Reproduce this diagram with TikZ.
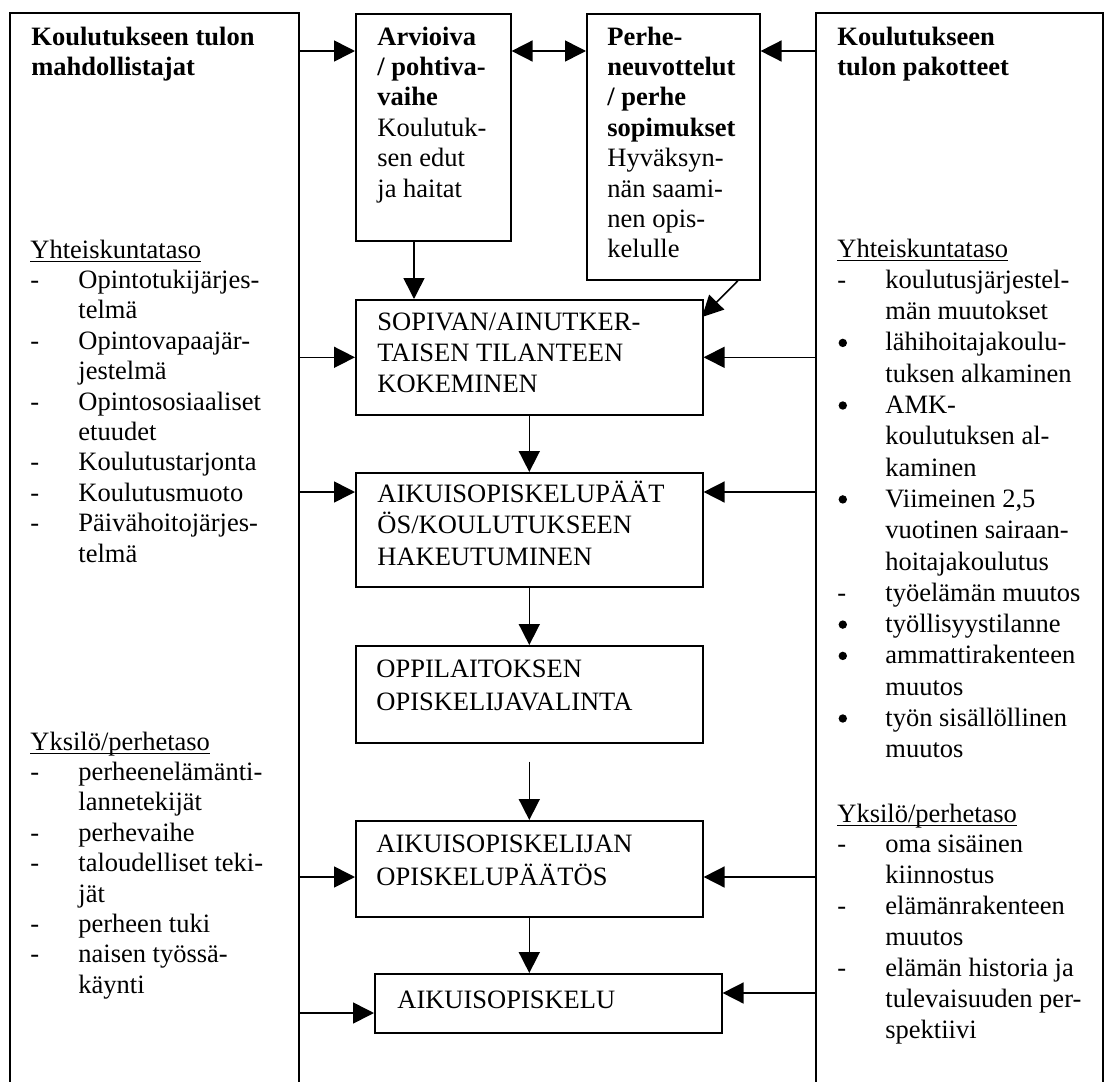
\documentclass[tikz,border=0pt]{standalone}
\usepackage{fontspec}
\setmainfont{Liberation Serif}
\usetikzlibrary{arrows.meta}
\newcommand\undl[1]{\setbox0=\hbox{#1}\rlap{\rule[-2.2pt]{\wd0}{0.6pt}}\box0}
\newcommand\Ln[2]{\hbox{\hbox to 24pt{#1\hfil}#2}}
\newcommand\Hl[1]{\hbox{#1}}
\newcommand\bul{\hspace{0.6pt}\tikz[baseline=-4pt]\fill (0pt,0pt) circle[radius=2.1pt];}
\newcommand\Blk[2]{\vtop{\baselineskip=#1\lineskiplimit=-\maxdimen\lineskip=0pt\relax #2}}
\begin{document}
\begin{tikzpicture}[x=0.5pt,y=-0.5pt,
  every node/.style={font=\fontsize{13.25pt}{15.25pt}\selectfont, inner sep=0pt},
  bx/.style={draw, line width=0.8pt, anchor=north west},
  txt/.style={anchor=base west, align=left},
  arr/.style={-{Triangle[length=10.5pt,width=10.5pt]}, line width=0.8pt},
  darr/.style={{Triangle[length=10.5pt,width=10.5pt]}-{Triangle[length=10.5pt,width=10.5pt]}, line width=0.8pt}]
\useasboundingbox (0,0) rectangle (1105,1082);

% side frames (open at the bottom)
\node[anchor=north west, minimum width=144pt, minimum height=535.5pt] (L) at (10,13) {};
\node[anchor=north west, minimum width=143pt, minimum height=535.5pt] (R) at (816,13) {};
\draw[line width=0.8pt] (L.south west) -- (L.north west) -- (L.north east) -- (L.south east);
\draw[line width=0.8pt] (R.south west) -- (R.north west) -- (R.north east) -- (R.south east);

% central boxes
\node[bx, minimum width=77.5pt, minimum height=113.5pt] (A) at (355,13) {};
\node[bx, minimum width=86.5pt, minimum height=133pt] (P) at (586,13) {};
\node[bx, minimum width=173.5pt, minimum height=57.5pt] (S) at (355,299) {};
\node[bx, minimum width=173.5pt, minimum height=57pt] (D1) at (355,472) {};
\node[bx, minimum width=173.5pt, minimum height=48.5pt] (O) at (355,645) {};
\node[bx, minimum width=173.5pt, minimum height=48pt] (D2) at (355,820) {};
\node[bx, minimum width=173.5pt, minimum height=29.5pt] (E) at (374,973) {};

% texts
\node[txt] (tL) at (31,45) {\Blk{15pt}{\Hl{\textbf{Koulutukseen tulon}}\Hl{\textbf{mahdollistajat}}}};
\node[txt] (tR) at (837,45) {\Blk{15pt}{\Hl{\textbf{Koulutukseen}}\Hl{\textbf{tulon pakotteet}}}};

\node[txt] (tL1) at (30,258) {\Blk{15.2pt}{%
  \Hl{\undl{Yhteiskuntataso}}%
  \Ln{-}{Opintotukijärjes-}\Ln{}{telmä}%
  \Ln{-}{Opintovapaajär-}\Ln{}{jestelmä}%
  \Ln{-}{Opintososiaaliset}\Ln{}{etuudet}%
  \Ln{-}{Koulutustarjonta}%
  \Ln{-}{Koulutusmuoto}%
  \Ln{-}{Päivähoitojärjes-}\Ln{}{telmä}}};

\node[txt] (tL2) at (30,750) {\Blk{15.2pt}{%
  \Hl{\undl{Yksilö/perhetaso}}%
  \Ln{-}{perheenelämänti-}\Ln{}{lannetekijät}%
  \Ln{-}{perhevaihe}%
  \Ln{-}{taloudelliset teki-}\Ln{}{jät}%
  \Ln{-}{perheen tuki}%
  \Ln{-}{naisen työssä-}\Ln{}{käynti}}};

\node[txt] (tR1) at (837,257) {\Blk{15.65pt}{%
  \Hl{\undl{Yhteiskuntataso}}%
  \Ln{-}{koulutusjärjestel-}\Ln{}{män muutokset}%
  \Ln{\bul}{lähihoitajakoulu-}\Ln{}{tuksen alkaminen}%
  \Ln{\bul}{AMK-}\Ln{}{koulutuksen al-}\Ln{}{kaminen}%
  \Ln{\bul}{Viimeinen 2,5}\Ln{}{vuotinen sairaan-}\Ln{}{hoitajakoulutus}%
  \Ln{-}{työelämän muutos}%
  \Ln{\bul}{työllisyystilanne}%
  \Ln{\bul}{ammattirakenteen}\Ln{}{muutos}%
  \Ln{\bul}{työn sisällöllinen}\Ln{}{muutos}}};

\node[txt] (tR2) at (837,822) {\Blk{15.45pt}{%
  \Hl{\undl{Yksilö/perhetaso}}%
  \Ln{-}{oma sisäinen}\Ln{}{kiinnostus}%
  \Ln{-}{elämänrakenteen}\Ln{}{muutos}%
  \Ln{-}{elämän historia ja}\Ln{}{tulevaisuuden per-}\Ln{}{spektiivi}}};

\node[txt] (tA) at (377,45) {\Blk{15.2pt}{%
  \Hl{\textbf{Arvioiva}}\Hl{\textbf{/ pohtiva-}}\Hl{\textbf{vaihe}}%
  \Hl{Koulutuk-}\Hl{sen edut}\Hl{ja haitat}}};
\node[txt] (tP) at (607,45) {\Blk{15.2pt}{%
  \Hl{\textbf{Perhe-}}\Hl{\textbf{neuvottelut}}\Hl{\textbf{/ perhe}}\Hl{\textbf{sopimukset}}%
  \Hl{Hyväksyn-}\Hl{nän saami-}\Hl{nen opis-}\Hl{kelulle}}};
\node[txt] (tS) at (377,330) {\Blk{15.5pt}{%
  \Hl{SOPIVAN/AINUTKER-}\Hl{TAISEN TILANTEEN}\Hl{KOKEMINEN}}};
\node[txt] (tD1) at (377,502) {\Blk{15.75pt}{%
  \Hl{AIKUISOPISKELUPÄÄT}\Hl{ÖS/KOULUTUKSEEN}\Hl{HAKEUTUMINEN}}};
\node[txt] (tO) at (376,677) {\Blk{16.5pt}{%
  \Hl{OPPILAITOKSEN}\Hl{OPISKELIJAVALINTA}}};
\node[txt] (tD2) at (376,852) {\Blk{16.5pt}{%
  \Hl{AIKUISOPISKELIJAN}\Hl{OPISKELUPÄÄTÖS}}};
\node[txt] (tE) at (397,1008) {AIKUISOPISKELU};

% helper coordinates
\coordinate (ytop) at (0,51);
\coordinate (yD1) at (0,492);
\coordinate (yD2) at (0,877);
\coordinate (yEl) at (0,1013);
\coordinate (yEr) at (0,993);
\coordinate (xA) at (414,0);
\coordinate (xP) at (738,0);
\coordinate (sIn) at (702,317);

% connectors
\draw[arr] (L.east |- ytop) -- (A.west |- ytop);
\draw[darr] (A.east |- ytop) -- (P.west |- ytop);
\draw[arr] (R.west |- ytop) -- (P.east |- ytop);
\draw[arr] (A.south -| xA) -- (S.north -| xA);
\draw[arr] (P.south -| xP) -- (sIn);
\draw[arr] (L.east |- S.west) -- (S.west);
\draw[arr] (R.west |- S.east) -- (S.east);
\draw[arr] (S.south) -- (D1.north);
\draw[arr] (L.east |- yD1) -- (D1.west |- yD1);
\draw[arr] (R.west |- yD1) -- (D1.east |- yD1);
\draw[arr] (D1.south) -- (O.north);
\draw[arr, shorten <=9pt] (O.south) -- (D2.north);
\draw[arr] (L.east |- yD2) -- (D2.west |- yD2);
\draw[arr] (R.west |- yD2) -- (D2.east |- yD2);
\draw[arr] (D2.south) -- (D2.south |- E.north);
\draw[arr] (L.east |- yEl) -- (E.west |- yEl);
\draw[arr] (R.west |- yEr) -- (E.east |- yEr);
\end{tikzpicture}
\end{document}
